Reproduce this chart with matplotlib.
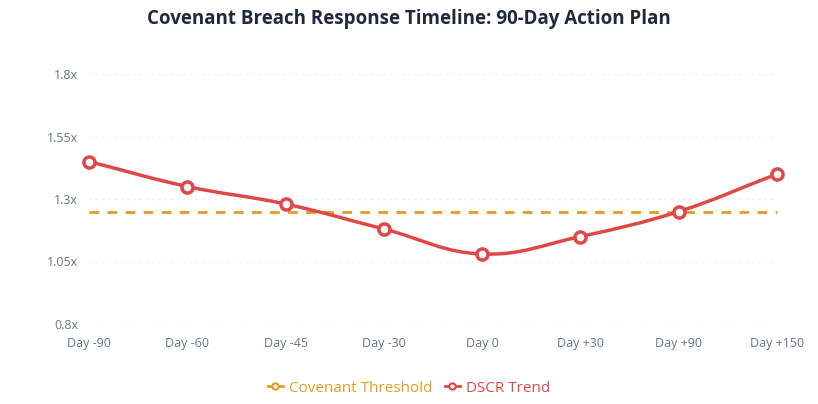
import matplotlib.pyplot as plt
import numpy as np
from matplotlib.path import Path
from matplotlib.patches import PathPatch
from matplotlib.lines import Line2D

days = ['Day -90', 'Day -60', 'Day -45', 'Day -30', 'Day 0', 'Day +30', 'Day +90', 'Day +150']
dscr = [1.45, 1.35, 1.28, 1.18, 1.08, 1.15, 1.25, 1.40]
threshold = [1.25] * len(days)
y_ticks = [0.8, 1.05, 1.3, 1.55, 1.8]

RED = '#e04848'
ORANGE = '#e39d23'
TICK = '#64748b'


def spline_path(ax, xs, ys, t=0.4):
    # Chart.js style bezier smoothing, done in pixel space
    pts = ax.transData.transform(np.column_stack([xs, ys]))
    n = len(pts)
    verts = [pts[0]]
    codes = [Path.MOVETO]
    cps = []
    for i in range(n):
        p0 = pts[max(i - 1, 0)]
        p1 = pts[i]
        p2 = pts[min(i + 1, n - 1)]
        d01 = np.hypot(*(p1 - p0))
        d12 = np.hypot(*(p2 - p1))
        tot = d01 + d12
        s01 = d01 / tot if tot else 0
        s12 = d12 / tot if tot else 0
        cps.append((p1 - t * s01 * (p2 - p0), p1 + t * s12 * (p2 - p0)))
    for i in range(1, n):
        verts += [cps[i - 1][1], cps[i][0], pts[i]]
        codes += [Path.CURVE4] * 3
    inv = ax.transData.inverted()
    return Path(inv.transform(np.array(verts)), codes)


def main():
    plt.rcParams['font.family'] = ['Open Sans', 'DejaVu Sans']
    fig = plt.figure(figsize=(8.18, 4.04), dpi=100)
    ax = fig.add_axes([89 / 818, 80 / 404, 688 / 818, 250 / 404])
    x = np.arange(len(days))
    ax.set_xlim(0, len(days) - 1)
    ax.set_ylim(0.8, 1.8)

    for yv in y_ticks:
        ax.axhline(yv, color='#eceef1', lw=0.9, ls=(0, (2, 3)), zorder=0)

    ax.plot(x, threshold, color=ORANGE, lw=2, ls=(0, (3.5, 3)), zorder=2, clip_on=False)

    fig.canvas.draw()
    path = spline_path(ax, x, dscr)
    ax.add_patch(PathPatch(path, fill=False, edgecolor=RED, lw=2.5, zorder=3, clip_on=False))
    ax.plot(x, dscr, ls='none', marker='o', ms=8, mfc='white', mec=RED, mew=2.5,
            zorder=4, clip_on=False)

    for s in ax.spines.values():
        s.set_visible(False)
    ax.set_xticks(x)
    ax.set_xticklabels(days)
    ax.set_yticks(y_ticks)
    ax.set_yticklabels([f'{v:g}x' for v in y_ticks])
    ax.tick_params(length=0, labelsize=9, colors=TICK)
    ax.tick_params(axis='x', pad=9)
    ax.tick_params(axis='y', pad=8)

    fig.suptitle('Covenant Breach Response Timeline: 90-Day Action Plan',
                 x=0.5, y=0.978, fontsize=13.5, fontweight='bold', color='#1e293b')

    handles = [
        Line2D([], [], color=ORANGE, lw=2, marker='o', ms=4.5, mfc='white', mec=ORANGE, mew=1.5),
        Line2D([], [], color=RED, lw=2, marker='o', ms=4.5, mfc='white', mec=RED, mew=1.5),
    ]
    leg = fig.legend(handles, ['Covenant Threshold', 'DSCR Trend'], loc='center',
                     bbox_to_anchor=(0.5, 1 - 388 / 404), ncol=2, frameon=False,
                     fontsize=11, handlelength=1.0, handletextpad=0.4, columnspacing=0.8)
    for txt, c in zip(leg.get_texts(), [ORANGE, RED]):
        txt.set_color(c)

    fig.savefig('out.png', dpi=100)


if __name__ == '__main__':
    main()
